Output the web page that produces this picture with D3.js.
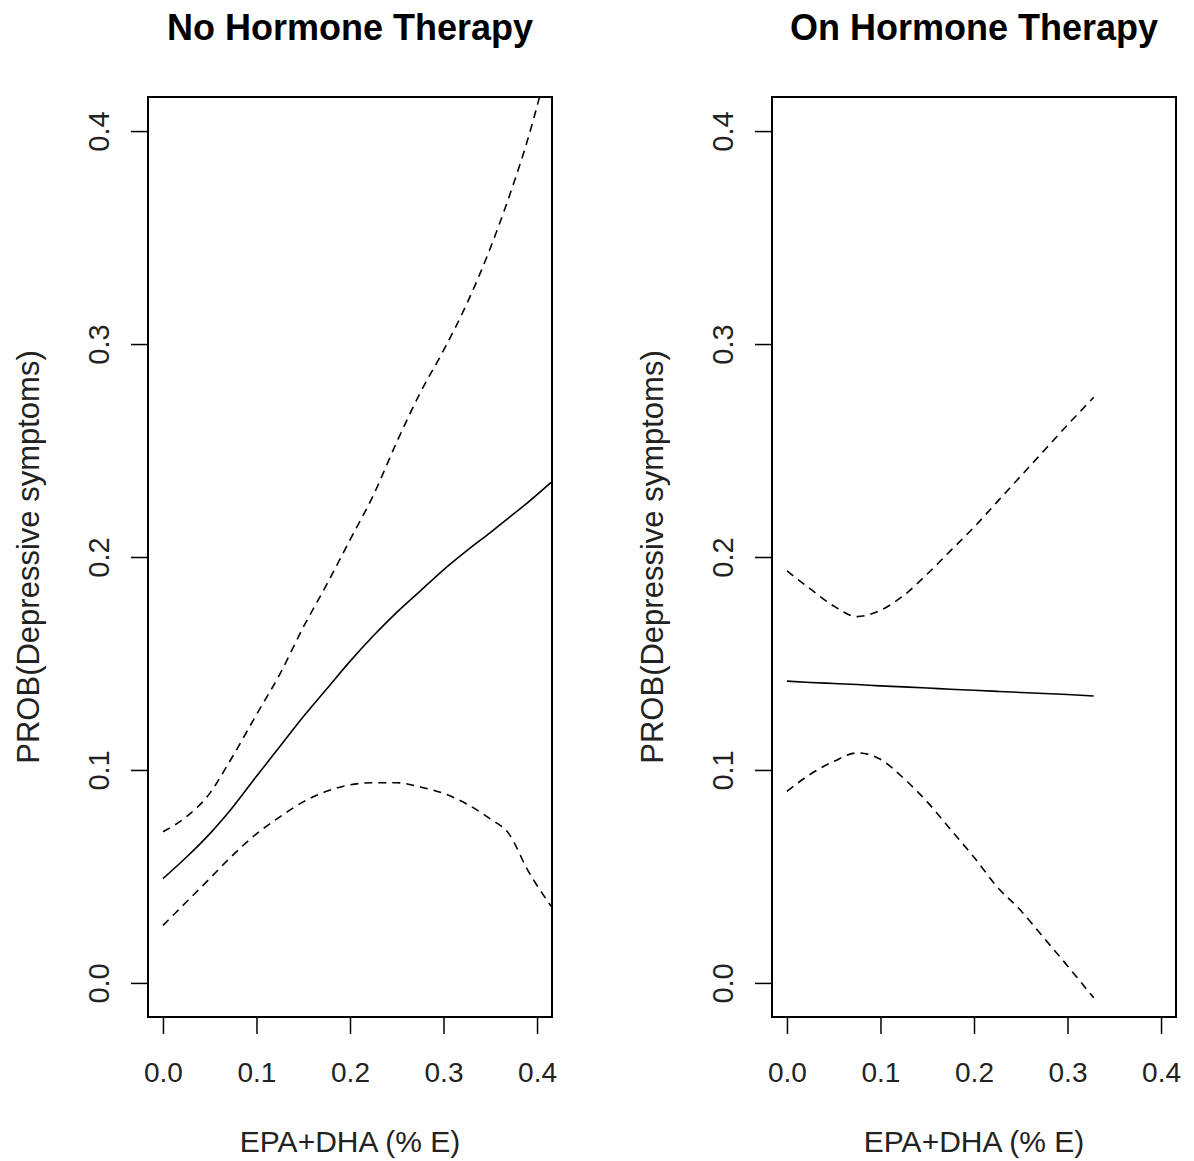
<!DOCTYPE html>
<html>
<head>
<meta charset="utf-8">
<script src="https://cdn.jsdelivr.net/npm/d3@7"></script>
<style>
  body { margin: 0; background: #fff; }
  svg { display: block; font-family: "Liberation Sans", Arial, sans-serif; }
</style>
</head>
<body>
<svg id="chart" width="1194" height="1161"></svg>
<script>
// values
const panelTitles = ['No Hormone Therapy', 'On Hormone Therapy'];
const xTicks = [0, 0.1, 0.2, 0.3, 0.4];
const yTicks = [0, 0.1, 0.2, 0.3, 0.4];
const xLabel = 'EPA+DHA (% E)';
const yLabel = 'PROB(Depressive symptoms)';

// no hormone therapy
const noHtX     = [0, 0.025, 0.05, 0.07, 0.1, 0.125, 0.15, 0.175, 0.2, 0.225, 0.25, 0.275, 0.3, 0.325, 0.35, 0.37, 0.39, 0.415];
const noHtFit   = [0.049, 0.059, 0.070, 0.080, 0.097, 0.111, 0.125, 0.138, 0.151, 0.163, 0.174, 0.184, 0.194, 0.203, 0.2115, 0.2185, 0.2255, 0.235];
const noHtUpper = [0.071, 0.078, 0.089, 0.103, 0.126, 0.145, 0.167, 0.187, 0.208, 0.229, 0.254, 0.277, 0.297, 0.319, 0.345, 0.369, 0.396, 0.437];
const noHtLower = [0.027, 0.038, 0.049, 0.058, 0.070, 0.078, 0.085, 0.090, 0.093, 0.094, 0.094, 0.092, 0.089, 0.084, 0.077, 0.070, 0.053, 0.036];

// on hormone therapy
const onHtX     = [0, 0.025, 0.05, 0.075, 0.1, 0.125, 0.15, 0.175, 0.2, 0.225, 0.25, 0.275, 0.3, 0.328];
const onHtFit   = [0.1417, 0.1411, 0.1406, 0.1401, 0.1395, 0.1390, 0.1385, 0.1379, 0.1374, 0.1369, 0.1364, 0.1359, 0.1354, 0.1347];
const onHtUpper = [0.1935, 0.185, 0.177, 0.172, 0.175, 0.182, 0.192, 0.203, 0.214, 0.226, 0.238, 0.250, 0.262, 0.275];
const onHtLower = [0.090, 0.098, 0.104, 0.108, 0.105, 0.096, 0.085, 0.072, 0.059, 0.045, 0.034, 0.021, 0.008, -0.007];

const panels = [
  { title: panelTitles[0], left: 148, xs: noHtX, fit: noHtFit, upper: noHtUpper, lower: noHtLower },
  { title: panelTitles[1], left: 772, xs: onHtX, fit: onHtFit, upper: onHtUpper, lower: onHtLower }
];

const boxTop = 97, boxBottom = 1017, boxW = 404;
const svg = d3.select('#chart');

panels.forEach(function (p, i) {
  let g = svg.append('g').attr('transform', 'translate(' + p.left + ',' + boxTop + ')');
  let h = boxBottom - boxTop;

  // R style 4% extension round 0..0.4
  let x = d3.scaleLinear().domain([-0.016, 0.416]).range([0, boxW]);
  let y = d3.scaleLinear().domain([-0.016, 0.416]).range([h, 0]);

  g.append('clipPath').attr('id', 'clip' + i)
    .append('rect').attr('width', boxW).attr('height', h);

  // x axis
  let xa = g.append('g').attr('transform', 'translate(0,' + h + ')')
    .call(d3.axisBottom(x).tickValues(xTicks).tickSize(17).tickPadding(0).tickFormat(d3.format('.1f')));
  xa.select('.domain').remove();
  xa.selectAll('line').attr('stroke', '#000').attr('stroke-width', 1.5);
  xa.selectAll('text')
    .attr('y', 65).attr('dy', 0)
    .attr('fill', '#222')
    .style('font-size', '28px');

  // y axis, labels parallel to the axis like R
  let ya = g.append('g')
    .call(d3.axisLeft(y).tickValues(yTicks).tickSize(17).tickFormat(d3.format('.1f')));
  ya.select('.domain').remove();
  ya.selectAll('line').attr('stroke', '#000').attr('stroke-width', 1.5);
  ya.selectAll('text')
    .attr('transform', 'rotate(-90)')
    .attr('x', 0).attr('y', -39).attr('dy', 0)
    .attr('text-anchor', 'middle')
    .attr('fill', '#222')
    .style('font-size', '29px');

  // curves
  let pts = function (vals) { return p.xs.map(function (d, j) { return [d, vals[j]]; }); };
  let line = d3.line().curve(d3.curveMonotoneX)
    .x(function (d) { return x(d[0]); }).y(function (d) { return y(d[1]); });
  let lines = g.append('g').attr('clip-path', 'url(#clip' + i + ')');

  lines.append('path').datum(pts(p.fit))
    .attr('d', line).attr('fill', 'none').attr('stroke', '#000').attr('stroke-width', 1.6);
  [p.upper, p.lower].forEach(function (vals) {
    lines.append('path').datum(pts(vals))
      .attr('d', line).attr('fill', 'none').attr('stroke', '#000')
      .attr('stroke-width', 1.6).attr('stroke-dasharray', '8,6');
  });

  // box
  g.append('rect').attr('width', boxW).attr('height', h)
    .attr('fill', 'none').attr('stroke', '#000').attr('stroke-width', 2);

  // titles
  g.append('text')
    .attr('x', boxW / 2).attr('y', 40 - boxTop)
    .attr('text-anchor', 'middle')
    .style('font-size', '36px').style('font-weight', 'bold')
    .text(p.title);

  g.append('text')
    .attr('x', boxW / 2).attr('y', 1152 - boxTop)
    .attr('text-anchor', 'middle')
    .attr('fill', '#222')
    .style('font-size', '30px')
    .text(xLabel);

  g.append('text')
    .attr('transform', 'translate(-109,' + (h / 2) + ') rotate(-90)')
    .attr('text-anchor', 'middle')
    .attr('fill', '#222')
    .style('font-size', '31px')
    .text(yLabel);
});
</script>
</body>
</html>
